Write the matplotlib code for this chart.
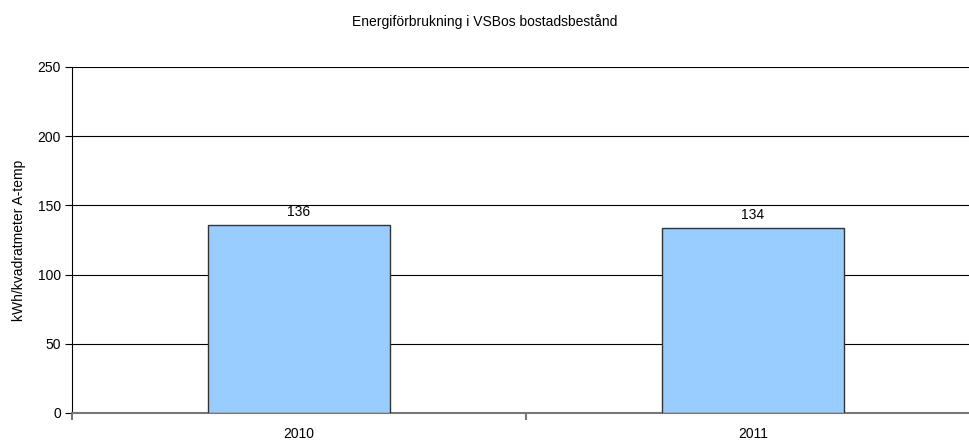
import matplotlib
matplotlib.use("Agg")
import matplotlib.pyplot as plt

plt.rcParams['font.family'] = ['Liberation Sans', 'DejaVu Sans']

years = ["2010", "2011"]
values = [136, 134]

W, H = 969, 445
fig = plt.figure(figsize=(W / 100, H / 100), dpi=100)
# plot area runs off the right edge of the image, like the original
ax = fig.add_axes([72 / W, 1 - 413 / H, 908 / W, 346 / H])

x = range(len(years))
ax.bar(x, values, width=0.4, color="#99ccff", edgecolor="#333333", linewidth=1, zorder=3)
for xi, v in zip(x, values):
    ax.text(xi, v + 4, str(v), ha="center", va="bottom", fontsize=10, zorder=4)

ax.set_xlim(-0.5, 1.5)
ax.set_ylim(0, 250)
ax.set_yticks(range(0, 251, 50))
ax.yaxis.grid(True, color="black", linewidth=0.8, zorder=0)

ax.set_xticks(x)
ax.set_xticklabels(years, fontsize=10)
ax.set_xticks([-0.5, 0.5, 1.5], minor=True)
ax.tick_params(axis="x", which="major", length=0, pad=10)
ax.tick_params(axis="x", which="minor", length=5, color="#777777", width=1.5)
ax.tick_params(axis="y", length=5, labelsize=10, pad=3)

for s in ["top", "right"]:
    ax.spines[s].set_visible(False)
ax.spines["bottom"].set_color("#777777")
ax.spines["bottom"].set_linewidth(1.5)
ax.spines["left"].set_color("black")

ax.set_ylabel("kWh/kvadratmeter A-temp", fontsize=10, labelpad=8)
fig.text(485 / W, 1 - 22 / H, "Energiförbrukning i VSBos bostadsbestånd",
         ha="center", va="center", fontsize=10)

fig.savefig("out.png", dpi=100)
